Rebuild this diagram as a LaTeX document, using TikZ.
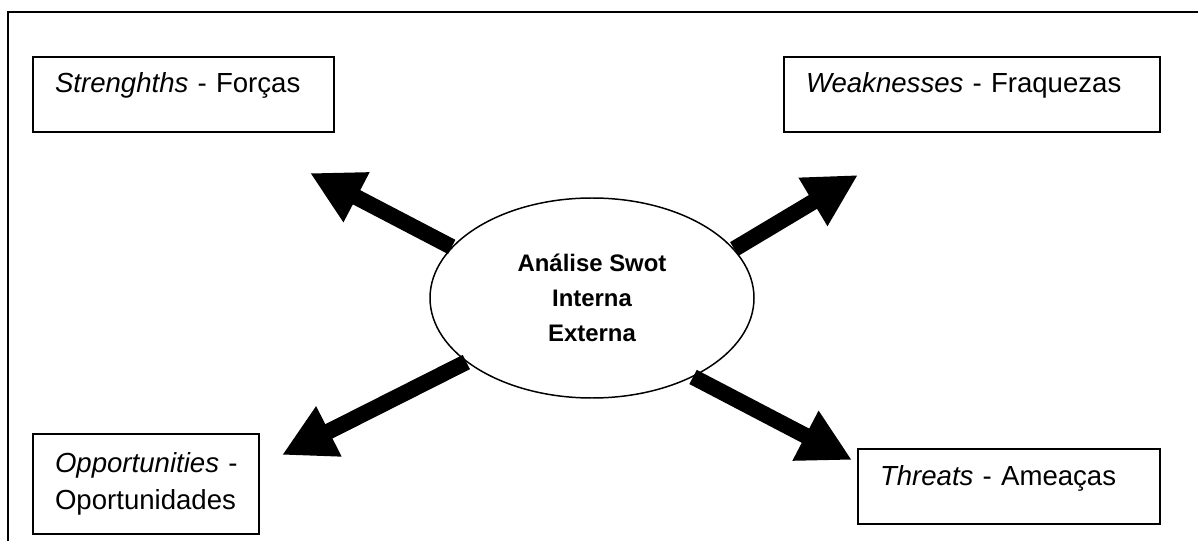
\documentclass[tikz,border=0pt]{standalone}
\usepackage{fontspec}
\setmainfont{Liberation Sans}
\usetikzlibrary{arrows.meta,positioning,shapes.geometric}

\tikzset{
  box/.style={draw,line width=1.1pt,rectangle,anchor=north west,outer sep=0pt,
    inner xsep=0.44cm,align=left,font=\fontsize{15.7}{21}\selectfont},
  oneline/.style={minimum height=1.5cm,text height=0.4cm,text depth=0.46cm},
  bigarrow/.style={line width=0.32cm,-{Triangle[length=1.05cm,width=1.05cm]}}
}

\begin{document}
\begin{tikzpicture}
		\useasboundingbox (0,0) rectangle (23.96,10.82);
		\draw[line width=1.1pt] (0.16,0) -- (0.16,10.58) -- (23.96,10.58);
		
		\node[box,oneline,text width=5.14cm] (str) at (0.66,9.68) {\textit{Strenghths} - Forças};
		\node[box,oneline,text width=6.64cm] (weak) at (15.68,9.68) {\textit{Weaknesses} - Fraquezas};
		\node[box,minimum height=2cm,text width=3.64cm] (opp) at (0.66,2.14) {\mbox{\textit{Opportunities} -}\\Oportunidades};
		\node[box,oneline,text width=5.16cm] (thr) at (17.16,1.84) {\textit{Threats} - Ameaças};
		
		\node[ellipse,draw,line width=0.85pt,minimum width=6.48cm,minimum height=4cm,inner sep=0pt,
			align=center,font=\fontsize{13.6}{20}\selectfont\bfseries] (swot) at (11.84,4.86)
			{Análise Swot\\Interna\\Externa};
		
		\coordinate (str-tip) at (6.2,7.36);
		\coordinate (weak-tip) at (17.16,7.32);
		\coordinate (opp-tip) at (5.64,1.72);
		\coordinate (thr-tip) at (17.04,1.62);
		
		\draw[bigarrow] (swot.160) -- (str-tip);
		\draw[bigarrow] (swot.19) -- (weak-tip);
		\draw[bigarrow] (swot.207) -- (opp-tip);
		\draw[bigarrow] (swot.322) -- (thr-tip);
\end{tikzpicture}
\end{document}
